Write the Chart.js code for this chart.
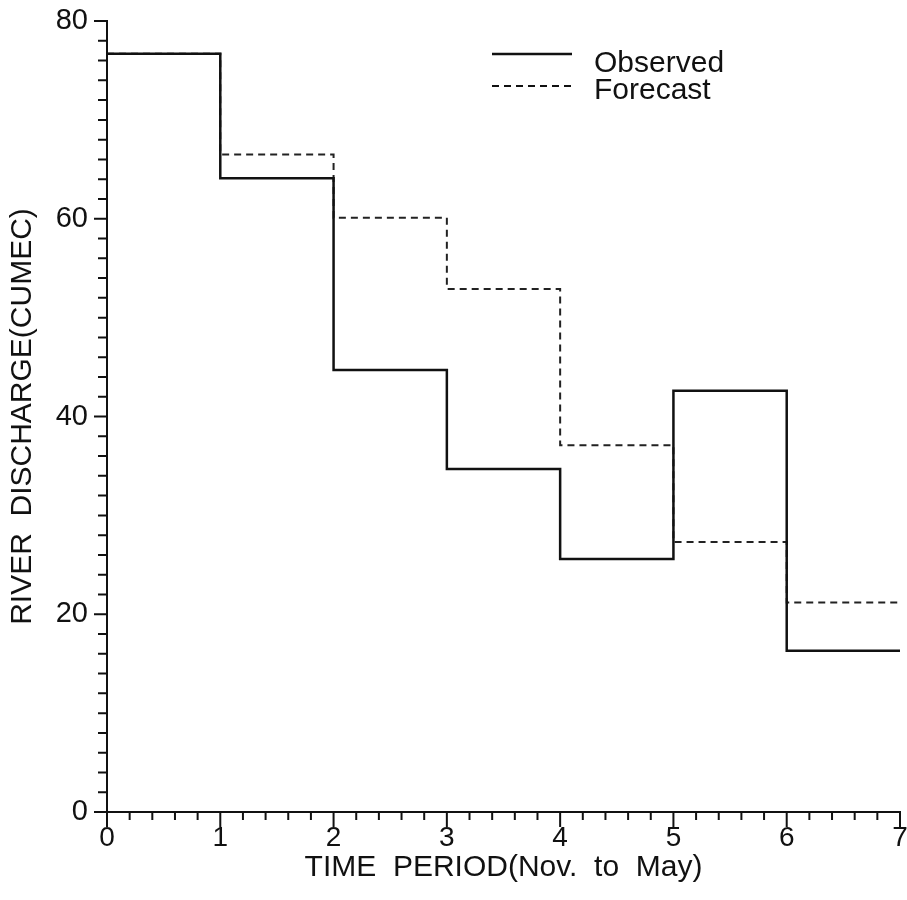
<!DOCTYPE html>
<html lang="en">
<head>
  <meta charset="UTF-8">
  <title>River Discharge: Observed vs Forecast</title>
  <script src="https://cdn.jsdelivr.net/npm/chart.js"></script>
  <style>
    html, body { margin: 0; padding: 0; background: #fff; }
    #wrap { width: 907px; height: 900px; }
  </style>
</head>
<body>
  <div id="wrap"><canvas id="flowChart"></canvas></div>

  <script>
    // period boundaries on the x axis (0..7), one value per period
    const periods  = [0, 1, 2, 3, 4, 5, 6, 7];
    const observed = [76.7, 64.1, 44.7, 34.7, 25.6, 42.6, 16.3];
    const forecast = [76.7, 66.5, 60.1, 52.9, 37.1, 27.3, 21.2];
    const yTicks   = [0, 20, 40, 60, 80];

    // step line: each value holds from its period start to the next boundary
    const toSteps = vals => periods.map((x, i) => ({ x, y: vals[Math.min(i, vals.length - 1)] }));

    const FONT = "'Liberation Sans', Arial, sans-serif";

    // tick marks (major + minor) drawn from the scales
    const tickMarks = {
      id: 'tickMarks',
      afterDraw(chart) {
        const { ctx, scales: { x, y } } = chart;
        ctx.save();
        ctx.strokeStyle = '#111';
        ctx.lineWidth = 2;
        ctx.beginPath();
        for (let v = 0; v <= 80; v += 2) {
          const py = y.getPixelForValue(v);
          const len = v % 20 === 0 ? 13 : 9;
          ctx.moveTo(x.left - len, py);
          ctx.lineTo(x.left, py);
        }
        for (let k = 0; k <= 35; k++) {
          const px = x.getPixelForValue(k / 5);
          const len = k % 5 === 0 ? 15 : 8;
          ctx.moveTo(px, y.bottom);
          ctx.lineTo(px, y.bottom + len);
        }
        ctx.stroke();
        ctx.restore();
      }
    };

    // legend inside the plot, top right
    const innerLegend = {
      id: 'innerLegend',
      afterDraw(chart) {
        const { ctx } = chart;
        ctx.save();
        ctx.font = '30px ' + FONT;
        ctx.fillStyle = '#111';
        ctx.textBaseline = 'middle';
        const rows = [{ y: 54, ty: 64 }, { y: 86, ty: 91 }];
        chart.data.datasets.forEach((ds, i) => {
          ctx.strokeStyle = '#111';
          ctx.lineWidth = ds.borderWidth;
          ctx.setLineDash(ds.borderDash || []);
          ctx.beginPath();
          ctx.moveTo(492, rows[i].y);
          ctx.lineTo(572, rows[i].y);
          ctx.stroke();
          ctx.setLineDash([]);
          ctx.fillText(ds.label, 594, rows[i].ty);
        });
        ctx.restore();
      }
    };

    new Chart(document.getElementById('flowChart'), {
      type: 'line',
      data: {
        datasets: [
          {
            label: 'Observed',
            data: toSteps(observed),
            stepped: 'before',
            borderColor: '#111',
            borderWidth: 2.5,
            pointRadius: 0,
            fill: false,
            order: 0
          },
          {
            label: 'Forecast',
            data: toSteps(forecast),
            stepped: 'before',
            borderColor: '#222',
            borderWidth: 2,
            borderDash: [7, 5],
            pointRadius: 0,
            fill: false,
            order: 1
          }
        ]
      },
      options: {
        responsive: true,
        maintainAspectRatio: false,
        animation: false,
        layout: { padding: { top: 21, right: 7, left: 0, bottom: 0 } },
        plugins: {
          legend: { display: false },
          tooltip: { enabled: false }
        },
        scales: {
          x: {
            type: 'linear',
            min: 0,
            max: 7,
            grid: { display: false, drawTicks: false },
            border: { display: true, color: '#111', width: 2 },
            ticks: {
              stepSize: 1,
              color: '#111',
              font: { family: FONT, size: 28 },
              padding: 9,
              maxRotation: 0
            },
            title: {
              display: true,
              text: 'TIME  PERIOD(Nov.  to  May)',
              color: '#111',
              font: { family: FONT, size: 30 },
              padding: { top: 0, bottom: 14 }
            },
            afterFit(scale) {
              scale.height = 88;
              scale.paddingLeft = 0;
              scale.paddingRight = 0;
            }
          },
          y: {
            min: 0,
            max: 80,
            grid: { display: false, drawTicks: false },
            border: { display: true, color: '#111', width: 2 },
            afterBuildTicks(scale) { scale.ticks = yTicks.map(v => ({ value: v })); },
            ticks: {
              color: '#111',
              font: { family: FONT, size: 29 },
              padding: 19
            },
            title: {
              display: true,
              text: 'RIVER  DISCHARGE(CUMEC)',
              color: '#111',
              font: { family: FONT, size: 30 },
              padding: { top: 5, bottom: 0 }
            },
            afterFit(scale) {
              scale.width = 107;
              scale.paddingTop = 0;
              scale.paddingBottom = 0;
            }
          }
        }
      },
      plugins: [tickMarks, innerLegend]
    });
  </script>
</body>
</html>
